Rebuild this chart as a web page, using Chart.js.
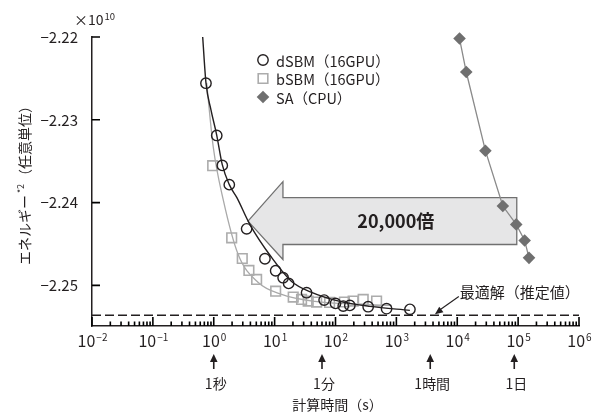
<!DOCTYPE html>
<html>
<head>
<meta charset="utf-8">
<script src="https://cdn.jsdelivr.net/npm/chart.js@4.4.1/dist/chart.umd.min.js"></script>
<style>
  html, body { margin: 0; padding: 0; background: #fff; }
</style>
</head>
<body>
<canvas id="chart" width="602" height="414"></canvas>
<script>
// データ (エネルギーは ×10^10)
const dsbmTime = [0.745, 1.12, 1.38, 1.80, 3.47, 6.93, 10.4, 13.8, 17.0, 33.5, 65, 100, 134, 172, 344, 690, 1670];
const dsbmEnergy = [-2.22558, -2.23189, -2.23551, -2.23783, -2.24317, -2.24678, -2.24823, -2.24907, -2.24976, -2.25088, -2.25177, -2.25217, -2.25249, -2.25241, -2.25257, -2.25281, -2.25289];

const dsbmFitTime = [0.658, 0.745, 0.90, 1.116, 1.38, 1.80, 2.40, 3.93, 8.93, 19.0, 40.5, 118, 367, 1667];
const dsbmFitEnergy = [-2.2200, -2.22554, -2.2288, -2.23181, -2.23542, -2.23783, -2.2394, -2.24265, -2.24663, -2.24952, -2.25084, -2.25193, -2.25253, -2.25301];

const bsbmTime = [0.96, 1.97, 2.94, 3.78, 5.06, 10.4, 20.2, 27.7, 35.6, 49.0, 80, 140, 195, 285, 473];
const bsbmEnergy = [-2.23554, -2.24425, -2.24675, -2.24819, -2.24928, -2.25069, -2.25141, -2.25169, -2.25189, -2.25201, -2.25205, -2.25200, -2.25189, -2.25169, -2.25189];

const bsbmFitTime = [0.764, 0.98, 1.43, 2.52, 5.38, 13.0, 45.9, 252, 844];
const bsbmFitEnergy = [-2.22554, -2.23325, -2.23964, -2.24627, -2.24964, -2.25108, -2.25193, -2.25229, -2.25241];

const saTime = [10900, 14060, 29000, 56100, 93100, 128000, 151000];
const saEnergy = [-2.22019, -2.22423, -2.23373, -2.24041, -2.24263, -2.24458, -2.24667];

const optimumTime = [0.01, 1e6];
const optimumEnergy = [-2.25361, -2.25361];

const yTickValues = [-2.22, -2.23, -2.24, -2.25];
const xDecades = [-2, -1, 0, 1, 2, 3, 4, 5, 6];
const timeMarks = [1, 60, 3600, 86400];
const timeMarkLabels = ['1秒', '1分', '1時間', '1日'];

const FONT = '"Noto Sans CJK JP", "Noto Sans", sans-serif';
const INK = '#231f20';

const toXY = (xs, ys) => xs.map((x, i) => ({ x: x, y: ys[i] }));

// 目盛 (1〜9 × 10^k)
const xTickValues = [];
const xTickMajor = [];
xDecades.forEach((e, i) => {
    if (i === xDecades.length - 1) { xTickValues.push(Math.pow(10, e)); xTickMajor.push(true); return; }
    for (let m = 1; m <= 9; m++) { xTickValues.push(m * Math.pow(10, e)); xTickMajor.push(m === 1); }
});

function arrowHead(ctx, x1, y1, x2, y2, len, half) {
    const a = Math.atan2(y2 - y1, x2 - x1);
    ctx.beginPath();
    ctx.moveTo(x2, y2);
    ctx.lineTo(x2 - len * Math.cos(a) + half * Math.sin(a), y2 - len * Math.sin(a) - half * Math.cos(a));
    ctx.lineTo(x2 - len * Math.cos(a) - half * Math.sin(a), y2 - len * Math.sin(a) + half * Math.cos(a));
    ctx.closePath();
    ctx.fill();
}

function supText(ctx, base, sup, x, y, baseSize, supSize, rise, align) {
    ctx.font = baseSize + 'px ' + FONT;
    const wb = ctx.measureText(base).width;
    ctx.font = supSize + 'px ' + FONT;
    const ws = ctx.measureText(sup).width;
    let x0 = x;
    if (align === 'center') x0 = x - (wb + ws) / 2;
    ctx.textAlign = 'left';
    ctx.textBaseline = 'alphabetic';
    ctx.font = baseSize + 'px ' + FONT;
    ctx.fillText(base, x0, y);
    ctx.font = supSize + 'px ' + FONT;
    ctx.fillText(sup, x0 + wb + 1, y - rise);
}

const decor = {
    id: 'decor',
    beforeDatasetsDraw(chart) {
        // 大きな矢印 (20,000倍)
        const ctx = chart.ctx, xs = chart.scales.x, ys = chart.scales.y;
        const X = v => xs.getPixelForValue(v), Y = v => ys.getPixelForValue(v);
        const pts = [
            [X(3.65), Y(-2.24223)], [X(13.7), Y(-2.23747)], [X(13.7), Y(-2.2394)],
            [X(95000), Y(-2.2394)], [X(95000), Y(-2.24506)], [X(13.7), Y(-2.24506)],
            [X(13.7), Y(-2.24687)]
        ];
        ctx.save();
        ctx.beginPath();
        pts.forEach((p, i) => i ? ctx.lineTo(p[0], p[1]) : ctx.moveTo(p[0], p[1]));
        ctx.closePath();
        ctx.fillStyle = '#e6e6e7';
        ctx.fill();
        ctx.strokeStyle = '#707070';
        ctx.lineWidth = 1.3;
        ctx.stroke();
        ctx.fillStyle = INK;
        ctx.font = 'bold 18px ' + FONT;
        ctx.textAlign = 'center';
        ctx.textBaseline = 'middle';
        ctx.fillText('20,000倍', X(980), Y(-2.24223));
        ctx.restore();
    },
    afterDraw(chart) {
        const ctx = chart.ctx, xs = chart.scales.x, ys = chart.scales.y;
        const area = chart.chartArea;

        // 内向きの目盛
        ctx.save();
        ctx.strokeStyle = '#000000';
        ctx.lineWidth = 1.6;
        ctx.beginPath();
        xTickValues.forEach((v, i) => {
            const px = xs.getPixelForValue(v);
            ctx.moveTo(px, area.bottom);
            ctx.lineTo(px, area.bottom - (xTickMajor[i] ? 9 : 4.5));
        });
        yTickValues.forEach(v => {
            const py = ys.getPixelForValue(v);
            ctx.moveTo(area.left, py);
            ctx.lineTo(area.left + 8, py);
        });
        ctx.stroke();
        ctx.restore();

        ctx.save();
        ctx.fillStyle = INK;

        // x 軸ラベル 10^n
        xDecades.forEach(e => {
            const px = xs.getPixelForValue(Math.pow(10, e));
            const sup = e < 0 ? '−' + Math.abs(e) : String(e);
            supText(ctx, '10', sup, px, area.bottom + 21, 16, 10, 6, 'center');
        });

        // ×10^10
        supText(ctx, '×10', '10', 74, 25, 14, 9.5, 5, 'left');

        // 縦軸タイトル
        ctx.save();
        ctx.translate(25, 182);
        ctx.rotate(-Math.PI / 2);
        const p1 = 'エネルギー', p2 = '*2', p3 = '（任意単位）';
        ctx.font = '14px ' + FONT;
        const w1 = ctx.measureText(p1).width, w3 = ctx.measureText(p3).width;
        ctx.font = '9px ' + FONT;
        const w2 = ctx.measureText(p2).width + 3;
        const x0 = -(w1 + w2 + w3) / 2;
        ctx.textBaseline = 'middle';
        ctx.textAlign = 'left';
        ctx.font = '14px ' + FONT;
        ctx.fillText(p1, x0, 0);
        ctx.font = '9px ' + FONT;
        ctx.fillText(p2, x0 + w1 + 2, -4);
        ctx.font = '14px ' + FONT;
        ctx.fillText(p3, x0 + w1 + w2, 0);
        ctx.restore();

        // 凡例
        const legendItems = [
            { text: 'dSBM（16GPU）', style: 'circle' },
            { text: 'bSBM（16GPU）', style: 'rect' },
            { text: 'SA（CPU）', style: 'rectRot' }
        ];
        legendItems.forEach((it, i) => {
            const cy = 60 + i * 18.5, cx = 263;
            ctx.beginPath();
            if (it.style === 'circle') {
                ctx.arc(cx, cy, 5.2, 0, Math.PI * 2);
                ctx.strokeStyle = INK; ctx.lineWidth = 1.4; ctx.stroke();
            } else if (it.style === 'rect') {
                ctx.rect(cx - 4.8, cy - 4.8, 9.6, 9.6);
                ctx.strokeStyle = '#acacac'; ctx.lineWidth = 1.6; ctx.stroke();
            } else {
                ctx.moveTo(cx - 6.3, cy); ctx.lineTo(cx, cy - 6.3);
                ctx.lineTo(cx + 6.3, cy); ctx.lineTo(cx, cy + 6.3);
                ctx.closePath();
                ctx.fillStyle = '#6f6f6f'; ctx.fill();
            }
            ctx.fillStyle = INK;
            ctx.font = '14.5px ' + FONT;
            ctx.textAlign = 'left';
            ctx.textBaseline = 'middle';
            ctx.fillText(it.text, 276, cy + 1);
        });

        // 最適解 (推定値)
        const tipX = xs.getPixelForValue(4300), tipY = ys.getPixelForValue(optimumEnergy[0]) - 1;
        const tailX = xs.getPixelForValue(10600), tailY = ys.getPixelForValue(-2.25133);
        ctx.strokeStyle = INK; ctx.fillStyle = INK; ctx.lineWidth = 1.1;
        ctx.beginPath();
        ctx.moveTo(tailX, tailY);
        ctx.lineTo(tipX + 3, tipY - 3);
        ctx.stroke();
        arrowHead(ctx, tailX, tailY, tipX, tipY, 8, 3.5);
        ctx.font = '15px ' + FONT;
        ctx.textAlign = 'left';
        ctx.textBaseline = 'middle';
        ctx.fillText('最適解（推定値）', tailX + 1, tailY - 4);

        // 時間の目安
        timeMarks.forEach((t, i) => {
            const px = xs.getPixelForValue(t);
            ctx.lineWidth = 1.6;
            ctx.beginPath();
            ctx.moveTo(px, 369);
            ctx.lineTo(px, 360);
            ctx.stroke();
            arrowHead(ctx, px, 369, px, 354, 8, 3.8);
            ctx.font = '14px ' + FONT;
            ctx.textAlign = 'center';
            ctx.textBaseline = 'middle';
            ctx.fillText(timeMarkLabels[i], px + 2, 384);
        });

        // x 軸タイトル
        ctx.font = '14px ' + FONT;
        ctx.textAlign = 'center';
        ctx.textBaseline = 'middle';
        ctx.fillText('計算時間（s）', (area.left + area.right) / 2 + 2, 405);
        ctx.restore();
    }
};

new Chart(document.getElementById('chart'), {
    type: 'scatter',
    data: {
        datasets: [
            {
                label: 'dSBM（16GPU）',
                data: toXY(dsbmTime, dsbmEnergy),
                showLine: false,
                pointStyle: 'circle',
                pointRadius: 5.2,
                borderColor: INK,
                backgroundColor: 'rgba(0,0,0,0)',
                borderWidth: 1.4,
                order: 1,
                clip: false
            },
            {
                label: 'dSBM fit',
                data: toXY(dsbmFitTime, dsbmFitEnergy),
                showLine: true,
                pointRadius: 0,
                borderColor: INK,
                borderWidth: 1.4,
                cubicInterpolationMode: 'monotone',
                order: 2
            },
            {
                label: 'SA（CPU）',
                data: toXY(saTime, saEnergy),
                showLine: true,
                pointStyle: 'rectRot',
                pointRadius: 6.3,
                borderColor: '#8a8a8a',
                borderWidth: 1.3,
                pointBorderColor: '#6f6f6f',
                pointBackgroundColor: '#6f6f6f',
                pointBorderWidth: 0,
                order: 3,
                clip: false
            },
            {
                label: 'bSBM（16GPU）',
                data: toXY(bsbmTime, bsbmEnergy),
                showLine: false,
                pointStyle: 'rect',
                pointRadius: 6.8,
                borderColor: '#acacac',
                backgroundColor: 'rgba(0,0,0,0)',
                borderWidth: 1.6,
                order: 4,
                clip: false
            },
            {
                label: 'bSBM fit',
                data: toXY(bsbmFitTime, bsbmFitEnergy),
                showLine: true,
                pointRadius: 0,
                borderColor: '#a9a9a9',
                borderWidth: 1.3,
                cubicInterpolationMode: 'monotone',
                order: 5
            },
            {
                label: '最適解',
                data: toXY(optimumTime, optimumEnergy),
                showLine: true,
                pointRadius: 0,
                borderColor: INK,
                borderWidth: 1.5,
                borderDash: [9, 4],
                order: 6
            }
        ]
    },
    options: {
        responsive: false,
        devicePixelRatio: 1,
        animation: false,
        events: [],
        layout: { padding: { left: 0, right: 23, top: 37, bottom: 0 } },
        plugins: { legend: { display: false }, tooltip: { enabled: false } },
        scales: {
            x: {
                type: 'logarithmic',
                min: 0.01,
                max: 1e6,
                grid: { display: false },
                border: { display: true, color: INK, width: 1.5 },
                ticks: { display: false },
                afterFit: s => { s.height = 88; }
            },
            y: {
                type: 'linear',
                min: -2.2549,
                max: -2.22,
                grid: { display: false },
                border: { display: true, color: INK, width: 1.5 },
                ticks: {
                    color: INK,
                    padding: 6,
                    font: { family: FONT, size: 15 },
                    callback: v => '−' + Math.abs(v).toFixed(2)
                },
                afterBuildTicks: s => { s.ticks = yTickValues.map(v => ({ value: v })); },
                afterFit: s => { s.width = 92; }
            }
        }
    },
    plugins: [decor]
});
</script>
</body>
</html>
